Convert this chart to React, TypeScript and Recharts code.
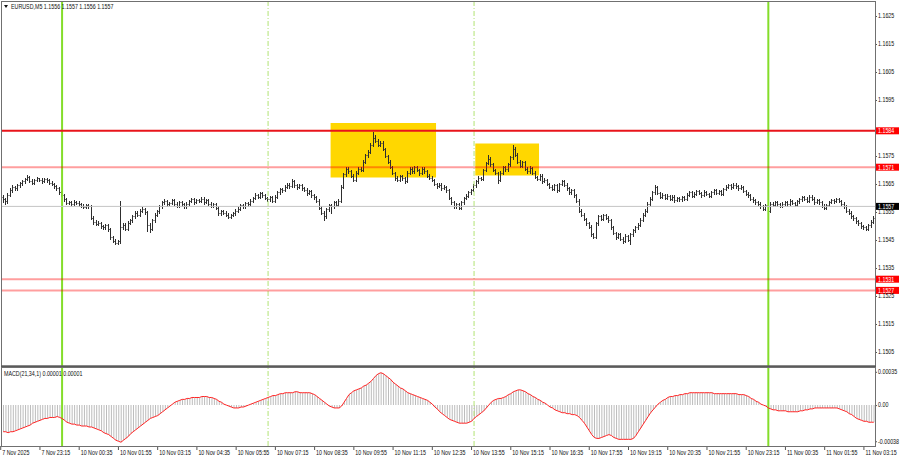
import { ComposedChart, Bar, Line, XAxis, YAxis, ReferenceLine, ReferenceArea } from 'recharts'

// EURUSD M5 bars, 7 Nov 21:55 .. 11 Nov 03:30. Prices in points (0.00001)
const openPts = [
  115605,115595,115588,115612,115628,115640,115634,115645,115652,115660,115668,115675,115662,115655,115664,115670,
  115666,115660,115668,115663,115655,115650,115642,115635,115620,115612,115595,115582,115585,115580,115587,115583,
  115578,115572,115568,115575,115570,115530,115515,115508,115512,115500,115495,115502,115488,115460,115448,115440,
  115445,115495,115505,115490,115512,115520,115535,115548,115540,115555,115562,115550,115505,115490,115520,115540,
  115552,115570,115585,115590,115578,115582,115592,115580,115572,115585,115578,115570,115580,115588,115596,115585,
  115592,115590,115598,115585,115592,115580,115572,115578,115565,115545,115552,115548,115540,115532,115538,115545,
  115555,115562,115575,115570,115582,115578,115590,115600,115612,115605,115618,115610,115600,115595,115602,115590,
  115605,115620,115632,115628,115640,115648,115642,115660,115645,115638,115645,115635,115630,115618,115625,115610,
  115602,115590,115565,115548,115535,115560,115575,115570,115585,115575,115590,115640,115685,115705,115695,115680,
  115665,115690,115705,115700,115730,115752,115765,115790,115815,115805,115790,115798,115775,115750,115730,115712,
  115690,115672,115665,115678,115670,115662,115690,115705,115695,115710,115700,115688,115705,115695,115680,115672,
  115665,115650,115642,115648,115635,115640,115628,115600,115585,115570,115578,115565,115585,115600,115608,115620,
  115628,115645,115660,115672,115668,115700,115725,115740,115720,115700,115690,115665,115690,115710,115702,115720,
  115745,115775,115755,115730,115715,115728,115705,115695,115708,115690,115675,115668,115680,115660,115665,115650,
  115640,115632,115645,115628,115650,115660,115648,115635,115620,115628,115610,115590,115555,115540,115525,115510,
  115498,115470,115462,115510,115535,115525,115538,115530,115520,115495,115475,115460,115470,115455,115448,115465,
  115450,115470,115485,115495,115505,115522,115540,115555,115580,115598,115620,115640,115618,115605,115612,115600,
  115608,115598,115605,115592,115600,115595,115602,115598,115612,115620,115608,115615,115625,115618,115610,115622,
  115615,115608,115620,115628,115618,115625,115615,115632,115640,115645,115638,115648,115642,115635,115640,115625,
  115615,115610,115598,115592,115585,115580,115570,115562,115575,115555,115580,115575,115585,115578,115572,115580,
  115585,115578,115590,115582,115575,115588,115595,115602,115598,115590,115605,115598,115585,115592,115585,115572,
  115565,115575,115585,115592,115588,115595,115590,115580,115570,115555,115548,115535,115528,115518,115510,115500,
  115495,115490,115502,115515,
]
const highPts = [
  115612,115600,115618,115634,115646,115644,115650,115657,115666,115672,115682,115678,115667,115669,115676,115673,
  115671,115673,115672,115668,115661,115655,115648,115640,115626,115616,115600,115590,115589,115592,115591,115588,
  115582,115577,115580,115579,115574,115534,115520,115517,115516,115505,115507,115506,115492,115465,115452,115450,
  115590,115512,115510,115518,115526,115540,115553,115552,115560,115568,115566,115554,115510,115525,115546,115557,
  115575,115590,115596,115594,115587,115598,115596,115585,115590,115589,115583,115585,115593,115601,115600,115597,
  115597,115603,115602,115597,115596,115585,115583,115582,115570,115557,115556,115552,115545,115543,115549,115560,
  115567,115580,115579,115587,115586,115595,115605,115617,115616,115623,115622,115614,115605,115607,115606,115610,
  115625,115637,115636,115645,115653,115652,115668,115664,115650,115650,115649,115640,115634,115630,115629,115615,
  115607,115595,115570,115553,115565,115580,115580,115590,115589,115596,115645,115690,115712,115710,115700,115685,
  115695,115710,115709,115735,115757,115771,115796,115836,115825,115810,115805,115802,115780,115755,115735,115716,
  115694,115677,115683,115682,115675,115695,115710,115709,115715,115714,115705,115710,115709,115700,115685,115677,
  115669,115655,115653,115652,115645,115644,115632,115605,115590,115583,115582,115590,115605,115613,115625,115633,
  115650,115665,115677,115676,115705,115730,115752,115745,115725,115705,115694,115695,115715,115714,115725,115750,
  115790,115782,115760,115735,115733,115732,115710,115713,115712,115695,115680,115685,115684,115670,115669,115655,
  115645,115650,115649,115655,115666,115664,115653,115640,115633,115632,115615,115595,115560,115545,115530,115515,
  115503,115476,115515,115540,115539,115543,115542,115535,115524,115500,115480,115475,115474,115460,115470,115469,
  115475,115490,115500,115510,115527,115545,115560,115585,115603,115625,115648,115644,115623,115617,115616,115613,
  115612,115610,115609,115605,115604,115607,115606,115617,115625,115624,115620,115630,115629,115622,115627,115626,
  115619,115625,115633,115632,115630,115629,115637,115645,115650,115649,115653,115652,115646,115645,115644,115630,
  115620,115614,115603,115597,115590,115585,115575,115580,115579,115586,115584,115590,115589,115583,115585,115590,
  115589,115595,115594,115587,115593,115600,115607,115606,115603,115610,115609,115603,115597,115596,115590,115577,
  115580,115590,115597,115596,115600,115599,115594,115585,115575,115560,115553,115540,115533,115523,115515,115505,
  115499,115507,115520,115536,
]
const lowPts = [
  115586,115580,115582,115606,115622,115628,115630,115640,115647,115655,115663,115657,115650,115651,115659,115660,
  115654,115656,115658,115650,115645,115637,115630,115614,115606,115590,115577,115578,115575,115576,115578,115572,
  115567,115563,115564,115565,115524,115508,115502,115503,115494,115489,115490,115482,115454,115442,115434,115436,
  115440,115488,115484,115486,115507,115515,115530,115535,115536,115550,115544,115482,115478,115485,115515,115535,
  115548,115566,115580,115573,115574,115577,115575,115567,115568,115573,115565,115566,115575,115584,115580,115581,
  115585,115586,115580,115581,115575,115567,115568,115560,115540,115541,115543,115535,115527,115528,115534,115541,
  115550,115558,115565,115566,115573,115574,115585,115596,115600,115601,115605,115595,115590,115591,115585,115586,
  115600,115616,115623,115624,115635,115637,115638,115640,115633,115634,115630,115625,115612,115614,115605,115597,
  115585,115560,115542,115522,115530,115555,115545,115566,115570,115570,115586,115635,115680,115690,115675,115660,
  115660,115686,115695,115696,115725,115748,115760,115786,115800,115785,115785,115770,115745,115725,115707,115684,
  115666,115660,115661,115665,115655,115658,115686,115690,115691,115695,115683,115684,115690,115675,115667,115660,
  115645,115637,115638,115630,115631,115623,115595,115580,115565,115566,115560,115561,115580,115596,115604,115616,
  115624,115640,115655,115663,115664,115695,115720,115715,115695,115685,115655,115660,115686,115697,115698,115716,
  115740,115750,115725,115710,115711,115700,115690,115691,115685,115670,115663,115664,115655,115656,115645,115635,
  115627,115628,115623,115624,115645,115643,115630,115615,115616,115605,115585,115550,115535,115520,115505,115492,
  115465,115456,115458,115505,115520,115521,115525,115515,115490,115470,115455,115456,115450,115440,115444,115445,
  115435,115465,115480,115490,115500,115517,115535,115550,115575,115594,115615,115613,115600,115601,115595,115596,
  115593,115594,115587,115588,115590,115591,115593,115594,115607,115603,115604,115610,115613,115605,115606,115610,
  115603,115604,115615,115613,115614,115610,115611,115627,115636,115633,115634,115637,115630,115631,115620,115610,
  115605,115593,115587,115580,115575,115565,115556,115558,115548,115551,115570,115571,115573,115567,115568,115575,
  115573,115574,115577,115570,115571,115583,115590,115593,115585,115586,115593,115580,115581,115580,115567,115560,
  115561,115571,115581,115583,115584,115585,115575,115565,115550,115543,115530,115522,115512,115505,115494,115488,
  115484,115486,115497,115510,
]
const closePts = [
  115595,115588,115612,115628,115640,115634,115645,115652,115660,115668,115675,115662,115655,115664,115670,115666,
  115660,115668,115663,115655,115650,115642,115635,115620,115612,115595,115582,115585,115580,115587,115583,115578,
  115572,115568,115575,115570,115530,115515,115508,115512,115500,115495,115502,115488,115460,115448,115440,115445,
  115495,115505,115490,115512,115520,115535,115548,115540,115555,115562,115550,115505,115490,115520,115540,115552,
  115570,115585,115590,115578,115582,115592,115580,115572,115585,115578,115570,115580,115588,115596,115585,115592,
  115590,115598,115585,115592,115580,115572,115578,115565,115545,115552,115548,115540,115532,115538,115545,115555,
  115562,115575,115570,115582,115578,115590,115600,115612,115605,115618,115610,115600,115595,115602,115590,115605,
  115620,115632,115628,115640,115648,115642,115660,115645,115638,115645,115635,115630,115618,115625,115610,115602,
  115590,115565,115548,115535,115560,115575,115570,115585,115575,115590,115640,115685,115705,115695,115680,115665,
  115690,115705,115700,115730,115752,115765,115790,115815,115805,115790,115798,115775,115750,115730,115712,115690,
  115672,115665,115678,115670,115662,115690,115705,115695,115710,115700,115688,115705,115695,115680,115672,115665,
  115650,115642,115648,115635,115640,115628,115600,115585,115570,115578,115565,115585,115600,115608,115620,115628,
  115645,115660,115672,115668,115700,115725,115740,115720,115700,115690,115665,115690,115710,115702,115720,115745,
  115775,115755,115730,115715,115728,115705,115695,115708,115690,115675,115668,115680,115660,115665,115650,115640,
  115632,115645,115628,115650,115660,115648,115635,115620,115628,115610,115590,115555,115540,115525,115510,115498,
  115470,115462,115510,115535,115525,115538,115530,115520,115495,115475,115460,115470,115455,115448,115465,115450,
  115470,115485,115495,115505,115522,115540,115555,115580,115598,115620,115640,115618,115605,115612,115600,115608,
  115598,115605,115592,115600,115595,115602,115598,115612,115620,115608,115615,115625,115618,115610,115622,115615,
  115608,115620,115628,115618,115625,115615,115632,115640,115645,115638,115648,115642,115635,115640,115625,115615,
  115610,115598,115592,115585,115580,115570,115562,115575,115555,115580,115575,115585,115578,115572,115580,115585,
  115578,115590,115582,115575,115588,115595,115602,115598,115590,115605,115598,115585,115592,115585,115572,115565,
  115575,115585,115592,115588,115595,115590,115580,115570,115555,115548,115535,115528,115518,115510,115500,115495,
  115490,115502,115515,115530,
]

// MACD(21,34,1) in 0.00001; the signal (SMA 1) follows it exactly
const macdPts = [
  -28,-28,-29,-28,-28,-27,-26,-25,-24,-23,-22,-21,-19,-18,-17,-16,
  -15,-14,-14,-13,-13,-13,-12,-13,-14,-16,-18,-19,-20,-20,-21,-21,
  -22,-22,-22,-23,-23,-24,-25,-26,-27,-29,-30,-31,-33,-35,-37,-38,
  -39,-37,-35,-33,-30,-28,-26,-24,-22,-20,-18,-16,-14,-13,-12,-11,
  -9,-7,-5,-3,-1,1,3,4,5,6,6,7,7,8,8,8,
  8,9,9,9,8,8,7,6,4,3,1,0,-1,-2,-3,-3,
  -3,-2,-2,-1,0,1,2,3,4,5,6,7,8,9,10,10,
  11,12,12,13,13,13,13,14,14,13,13,13,13,13,12,11,
  9,7,5,3,1,-1,-2,-3,-3,-3,-1,3,7,11,13,15,
  16,17,18,20,21,23,25,28,31,33,34,33,31,29,27,24,
  22,20,18,17,15,13,12,11,10,9,8,7,6,5,3,1,
  -2,-4,-7,-9,-11,-13,-15,-16,-17,-18,-19,-19,-19,-19,-18,-17,
  -14,-12,-10,-8,-6,-3,0,3,5,6,7,7,8,9,11,12,
  14,15,16,16,15,14,12,11,9,8,6,5,3,2,0,-2,
  -3,-5,-6,-7,-8,-8,-9,-9,-10,-10,-11,-13,-16,-19,-23,-27,
  -31,-34,-35,-35,-34,-33,-32,-31,-32,-34,-35,-36,-36,-36,-36,-36,
  -36,-35,-32,-28,-24,-20,-16,-12,-8,-5,-2,1,3,5,6,8,
  9,9,10,10,11,11,12,12,13,13,13,13,13,13,13,13,
  13,13,12,12,12,12,12,12,12,12,12,12,11,11,11,10,
  9,7,6,4,3,1,0,-1,-3,-4,-5,-5,-6,-6,-6,-6,
  -7,-7,-7,-7,-7,-6,-6,-5,-5,-4,-4,-3,-3,-3,-3,-3,
  -3,-3,-3,-3,-3,-4,-5,-6,-7,-9,-10,-12,-14,-15,-16,-17,
  -17,-18,-18,-18,
]

// one label every 16 bars
const timeLabels = [
  '7 Nov 2025', '7 Nov 23:15', '10 Nov 00:35', '10 Nov 01:55', '10 Nov 03:15', '10 Nov 04:35',
  '10 Nov 05:55', '10 Nov 07:15', '10 Nov 08:35', '10 Nov 09:55', '10 Nov 11:15', '10 Nov 12:35',
  '10 Nov 13:55', '10 Nov 15:15', '10 Nov 16:35', '10 Nov 17:55', '10 Nov 19:15', '10 Nov 20:35',
  '10 Nov 21:55', '10 Nov 23:15', '11 Nov 00:35', '11 Nov 01:55', '11 Nov 03:15',
]
const priceTicks = [1.1625, 1.1615, 1.1605, 1.1595, 1.1575, 1.1565, 1.1555, 1.1545, 1.1535, 1.1525, 1.1515, 1.1505]
const macdTicks = [0.00035, 0, -0.00038]

const strongLevels = [1.1584]
const weakLevels = [1.1571, 1.1531, 1.1527]
const lastPrice = 1.1557
// highlighted zones: bar index range and price range
const zones = [
  { from: 134, to: 176, low: 1.15673, high: 1.15868 },
  { from: 193, to: 218, low: 1.1568, high: 1.15795 },
]
const dayBreaks = [24, 312]
const sessionBreaks = [108, 192]

const bars = closePts.map((c, i) => ({
  i,
  open: openPts[i] / 1e5,
  high: highPts[i] / 1e5,
  low: lowPts[i] / 1e5,
  close: c / 1e5,
  macd: macdPts[i] / 1e5,
  signal: macdPts[i] / 1e5,
}))
const timeTicks = timeLabels.map((_, k) => k * 16)

const FONT = 'Liberation Sans, Arial, sans-serif'

function OhlcBar(props: any) {
  const { x, y, width, height, payload } = props
  if (!payload || !isFinite(y) || !isFinite(height)) return null
  const top = Math.min(y, y + height)
  const h = Math.abs(height)
  const span = payload.high - payload.low || 1
  const cx = Math.floor(x + width / 2) + 0.5
  const yo = Math.round(top + ((payload.high - payload.open) / span) * h) + 0.5
  const yc = Math.round(top + ((payload.high - payload.close) / span) * h) + 0.5
  return (
    <g stroke="#2e2e2e" strokeWidth={1}>
      <line x1={cx} x2={cx} y1={Math.round(top)} y2={Math.round(top + h) + 1} />
      <line x1={cx - 1} x2={cx} y1={yo} y2={yo} />
      <line x1={cx} x2={cx + 1} y1={yc} y2={yc} />
    </g>
  )
}

function SmallText({ x, y, children, fill = '#111' }: any) {
  return (
    <text transform={`translate(${x},${y}) scale(0.82,1)`} fontSize={6.5} fontFamily={FONT} fill={fill}>
      {children}
    </text>
  )
}

function PriceTick(props: any) {
  const { x, y, payload } = props
  return (
    <g>
      <line x1={x} x2={x + 2} y1={y + 0.5} y2={y + 0.5} stroke="#555" />
      <SmallText x={x + 3} y={y + 2.3}>{payload.value.toFixed(4)}</SmallText>
    </g>
  )
}

function MacdTick(props: any) {
  const { x, y, payload } = props
  const label = payload.value === 0 ? '0.00' : payload.value.toFixed(5)
  return (
    <g>
      <line x1={x} x2={x + 2} y1={y + 0.5} y2={y + 0.5} stroke="#555" />
      <SmallText x={x + 3} y={y + 2.3}>{label}</SmallText>
    </g>
  )
}

function TimeTick(props: any) {
  const { x, y, payload } = props
  const k = timeTicks.indexOf(payload.value)
  return (
    <g>
      <line x1={x - 2.5} x2={x - 2.5} y1={y} y2={y + 4} stroke="#555" />
      <SmallText x={x - 1} y={y + 8.5}>{timeLabels[k]}</SmallText>
    </g>
  )
}

function PriceTag(props: any) {
  const { viewBox, value, bg } = props
  if (!viewBox) return null
  const left = viewBox.x + viewBox.width
  const y = viewBox.y
  return (
    <g>
      <rect x={left + 1} y={y - 3.5} width={23} height={7} fill={bg} />
      <SmallText x={left + 3} y={y + 2.3} fill="#fff">{value.toFixed(4)}</SmallText>
    </g>
  )
}

function Separators() {
  return null
}

export default function App() {
  return (
    <div style={{ position: 'absolute', left: 0, top: 0, width: 900, height: 460, background: '#fff', overflow: 'hidden' }}>
      <div style={{ position: 'absolute', left: 0, top: 0 }}>
        <ComposedChart width={900} height={366} data={bars} margin={{ top: 2, right: 0, bottom: 0, left: 2 }} barCategoryGap={0} barGap={0}>
          <XAxis dataKey="i" type="category" hide />
          <YAxis
            orientation="right"
            width={25}
            type="number"
            domain={[1.15, 1.163]}
            ticks={priceTicks}
            interval={0}
            allowDataOverflow
            axisLine={false}
            tickLine={false}
            tickSize={0}
            tickMargin={0}
            tick={<PriceTick />}
          />
          {zones.map((z) => (
            <ReferenceArea key={z.from} x1={z.from} x2={z.to} y1={z.low} y2={z.high} fill="#ffd700" fillOpacity={1} stroke="none" />
          ))}
          {dayBreaks.map((d) => (
            <ReferenceLine key={'d' + d} x={d} stroke="#84dd2a" strokeWidth={2} />
          ))}
          {sessionBreaks.map((d) => (
            <ReferenceLine key={'s' + d} x={d} stroke="#b2e374" strokeWidth={1} strokeDasharray="5 2 1 2" />
          ))}
          <ReferenceLine y={lastPrice} stroke="#c4c4c4" strokeWidth={1} label={<PriceTag value={lastPrice} bg="#000" />} />
          {weakLevels.map((v) => (
            <ReferenceLine key={v} y={v} stroke="#ff0000" strokeOpacity={0.38} strokeWidth={2} label={<PriceTag value={v} bg="#ff0000" />} />
          ))}
          <Bar dataKey={(d: any) => [d.low, d.high]} shape={(p: any) => <OhlcBar {...p} />} isAnimationActive={false} />
          {strongLevels.map((v) => (
            <ReferenceLine key={v} y={v} stroke="#e8141b" strokeWidth={2} label={<PriceTag value={v} bg="#ff0000" />} />
          ))}
        </ComposedChart>
      </div>

      <div style={{ position: 'absolute', left: 0, top: 367 }}>
        <ComposedChart width={900} height={93} data={bars} margin={{ top: 1, right: 0, bottom: 0, left: 2 }} barCategoryGap={0} barGap={0}>
          <XAxis
            dataKey="i"
            type="category"
            height={14}
            ticks={timeTicks}
            interval={0}
            axisLine={false}
            tickLine={false}
            tickSize={0}
            tickMargin={0}
            tick={<TimeTick />}
          />
          <YAxis
            orientation="right"
            width={25}
            type="number"
            domain={[-0.00043, 0.00039]}
            ticks={macdTicks}
            interval={0}
            allowDataOverflow
            axisLine={false}
            tickLine={false}
            tickSize={0}
            tickMargin={0}
            tick={<MacdTick />}
          />
          {dayBreaks.map((d) => (
            <ReferenceLine key={'d' + d} x={d} stroke="#84dd2a" strokeWidth={2} />
          ))}
          {sessionBreaks.map((d) => (
            <ReferenceLine key={'s' + d} x={d} stroke="#b2e374" strokeWidth={1} strokeDasharray="5 2 1 2" />
          ))}
          <Bar dataKey="macd" fill="#bcbcbc" barSize={1} isAnimationActive={false} />
          <Line dataKey="signal" type="linear" stroke="#ff2323" strokeWidth={1} dot={false} isAnimationActive={false} />
        </ComposedChart>
      </div>

      {/* window frame and captions */}
      <svg width={900} height={460} style={{ position: 'absolute', left: 0, top: 0, pointerEvents: 'none' }}>
        <rect x={1.5} y={1.5} width={874} height={364.5} fill="none" stroke="#707070" />
        <line x1={1} x2={876} y1={366.5} y2={366.5} stroke="#5a5a5a" strokeWidth={2} />
        <rect x={1.5} y={367.5} width={874} height={79} fill="none" stroke="#707070" />
        <path d="M4,5 L8,5 L6,8 Z" fill="#111" />
        <SmallText x={11} y={8.5}>EURUSD,M5  1.1556 1.1557 1.1556 1.1557</SmallText>
        <SmallText x={4} y={375.5}>MACD(21,34,1) 0.00001 0.00001</SmallText>
      </svg>
      <Separators />
    </div>
  )
}
